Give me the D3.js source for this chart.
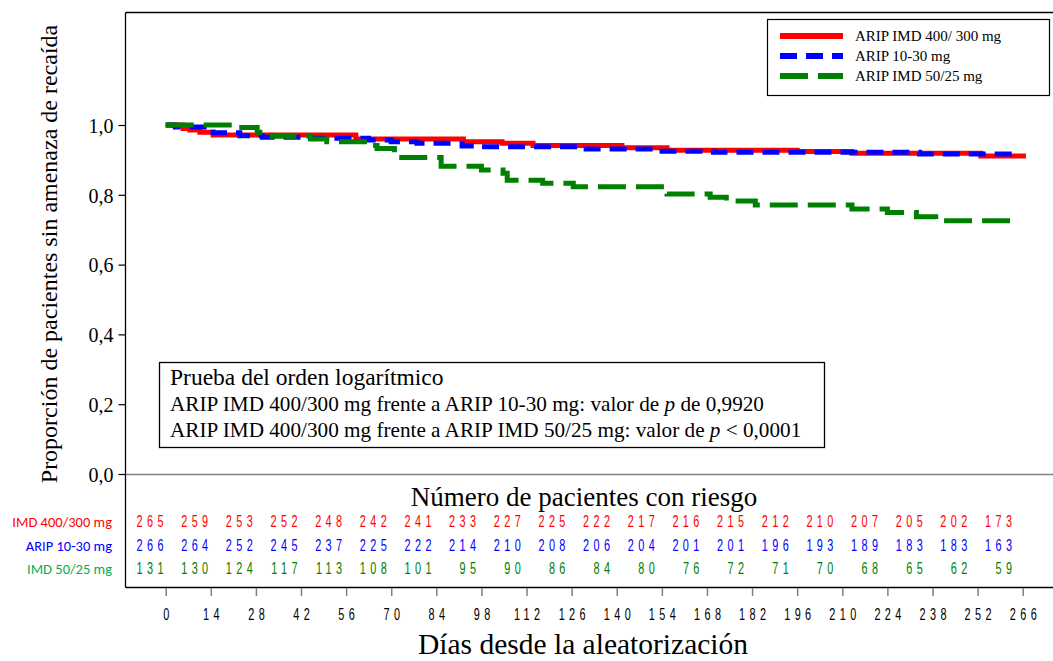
<!DOCTYPE html>
<html>
<head>
<meta charset="utf-8">
<script src="https://cdn.jsdelivr.net/npm/d3@7"></script>
<style>
  body { margin: 0; background: #fff; }
  svg { display: block; }
  .serif { font-family: "Liberation Serif", "Times New Roman", serif; }
  .narrow { font-family: "Liberation Sans", Arial, sans-serif; }
</style>
</head>
<body>
<svg id="chart" width="1053" height="661"></svg>
<script>
// ---------- data ----------
const seriesNames = ["ARIP IMD 400/ 300 mg", "ARIP 10-30 mg", "ARIP IMD 50/25 mg"];
const rowLabels = ["IMD 400/300 mg", "ARIP 10-30 mg", "IMD 50/25 mg"];

const redDays   = [0, 5.4, 7.5, 10.6, 14.7, 59, 92.4, 104.4, 114, 141.6, 155.6, 196, 213, 253, 267];
const redSurv   = [1, 0.990, 0.986, 0.979, 0.971, 0.960, 0.952, 0.9475, 0.941, 0.935, 0.928, 0.924, 0.919, 0.911, 0.911];

const blueDays  = [0, 3, 14.7, 23, 30, 45, 63, 70, 78, 92, 97, 128.6, 152, 170, 234, 265];
const blueSurv  = [1, 0.994, 0.978, 0.969, 0.965, 0.962, 0.957, 0.952, 0.948, 0.940, 0.938, 0.931, 0.925, 0.922, 0.917, 0.917];

const greenDays = [0, 21, 28.4, 33, 45, 50, 63.4, 65.6, 71, 85.5, 98, 104.7, 106, 117, 126.5, 155.6, 169, 174, 183, 213, 224, 233, 239, 264];
const greenSurv = [1, 0.993, 0.979, 0.968, 0.960, 0.952, 0.941, 0.933, 0.907, 0.882, 0.871, 0.862, 0.842, 0.833, 0.823, 0.802, 0.793, 0.782, 0.771, 0.759, 0.749, 0.737, 0.726, 0.726];

const xTicks = [0, 14, 28, 42, 56, 70, 84, 98, 112, 126, 140, 154, 168, 182, 196, 210, 224, 238, 252, 266];
const yTicks = [0, 0.2, 0.4, 0.6, 0.8, 1.0];
const yTickLabels = ["0,0", "0,2", "0,4", "0,6", "0,8", "1,0"];

const riskRed   = [265, 259, 253, 252, 248, 242, 241, 233, 227, 225, 222, 217, 216, 215, 212, 210, 207, 205, 202, 173];
const riskBlue  = [266, 264, 252, 245, 237, 225, 222, 214, 210, 208, 206, 204, 201, 201, 196, 193, 189, 183, 183, 163];
const riskGreen = [131, 130, 124, 117, 113, 108, 101, 95, 90, 86, 84, 80, 76, 72, 71, 70, 68, 65, 62, 59];

const lineColors  = ["#ff0000", "#0000ff", "#008000"];
const labelColors = ["#ff0000", "#0000ff", "#00b050"];

// ---------- layout ----------
const svg = d3.select("#chart");
const frameL = 125.5, frameT = 12.5, frameR = 1053, frameB = 587.5, plotB = 474;

const x = d3.scaleLinear().domain([0, 266]).range([165.7, 1022.7]);
const y = d3.scaleLinear().domain([0, 1]).range([plotB, 125]);
const xRisk = d3.scaleLinear().domain([0, 266]).range([163.5, 1012]);

// narrow, letter-spaced digits (condensed by horizontal scaling)
const sqz = 0.68, numSpace = 6.5, numSize = 16;

// frame
svg.append("line").attr("x1", frameL).attr("x2", frameL).attr("y1", frameT).attr("y2", frameB).attr("stroke", "#000").attr("stroke-width", 1.3);
svg.append("line").attr("x1", frameL).attr("x2", frameR).attr("y1", frameT).attr("y2", frameT).attr("stroke", "#000").attr("stroke-width", 1.3);
svg.append("line").attr("x1", frameL).attr("x2", frameR).attr("y1", frameB).attr("y2", frameB).attr("stroke", "#000").attr("stroke-width", 1.3);
svg.append("line").attr("x1", frameL).attr("x2", frameR).attr("y1", plotB + 0.5).attr("y2", plotB + 0.5).attr("stroke", "#7f7f7f").attr("stroke-width", 1.5);

// y axis
const yAxis = d3.axisLeft(y).tickValues(yTicks).tickSize(7).tickFormat((d, i) => yTickLabels[i]);
const gy = svg.append("g").attr("transform", `translate(${frameL},0)`).call(yAxis);
gy.select(".domain").remove();
gy.attr("font-family", null).attr("font-size", null);
gy.selectAll(".tick line").attr("stroke", "#000").attr("stroke-width", 1.2);
gy.selectAll(".tick text").attr("class", "serif").attr("font-size", 20).attr("fill", "#000").attr("x", -12).attr("dy", "0.36em");

// x axis (bottom)
const xAxis = d3.axisBottom(x).tickValues(xTicks).tickSize(8).tickFormat(d3.format("d"));
const gx = svg.append("g").attr("transform", `translate(0,${frameB + 0.5})`).call(xAxis);
gx.select(".domain").remove();
gx.attr("font-family", null).attr("font-size", null);
gx.selectAll(".tick line").attr("stroke", "#7f7f7f").attr("stroke-width", 1.5);
gx.selectAll(".tick text").attr("class", "narrow").attr("font-size", numSize).attr("fill", "#000")
  .attr("y", 0).attr("dy", "0").attr("dx", numSpace / 2)
  .attr("transform", `translate(0,32) scale(${sqz},1)`)
  .style("letter-spacing", numSpace + "px");

// curves
const series = [
  { days: redDays, surv: redSurv, color: lineColors[0], dash: null },
  { days: blueDays, surv: blueSurv, color: lineColors[1], dash: "17,9" },
  { days: greenDays, surv: greenSurv, color: lineColors[2], dash: "28,10" }
];
const line = d3.line().x(d => x(d[0])).y(d => y(d[1])).curve(d3.curveStepAfter);
series.forEach(s => {
  const pts = s.days.map((d, i) => [d, s.surv[i]]);
  svg.append("path").attr("d", line(pts)).attr("fill", "none")
    .attr("stroke", s.color).attr("stroke-width", 5)
    .attr("stroke-dasharray", s.dash);
});

// legend
const lg = svg.append("g");
lg.append("rect").attr("x", 767.5).attr("y", 19.5).attr("width", 282).attr("height", 76)
  .attr("fill", "#fff").attr("stroke", "#000").attr("stroke-width", 1.2);
seriesNames.forEach((n, i) => {
  const yy = 36 + i * 20;
  lg.append("line").attr("x1", 780).attr("x2", 843).attr("y1", yy).attr("y2", yy)
    .attr("stroke", lineColors[i]).attr("stroke-width", 6)
    .attr("stroke-dasharray", series[i].dash);
  lg.append("text").attr("class", "serif").attr("x", 855).attr("y", yy + 5)
    .attr("font-size", 15).attr("fill", "#000").text(n);
});

// log-rank box
const lb = svg.append("g");
lb.append("rect").attr("x", 159.5).attr("y", 362.5).attr("width", 665).attr("height", 85)
  .attr("fill", "#fff").attr("stroke", "#000").attr("stroke-width", 1.3);
lb.append("text").attr("class", "serif").attr("x", 170).attr("y", 385).attr("font-size", 23.5)
  .text("Prueba del orden logarítmico");
const t2 = lb.append("text").attr("class", "serif").attr("x", 170).attr("y", 411).attr("font-size", 21.2);
t2.append("tspan").text("ARIP IMD 400/300 mg frente a ARIP 10-30 mg: valor de ");
t2.append("tspan").attr("font-style", "italic").text("p");
t2.append("tspan").text(" de 0,9920");
const t3 = lb.append("text").attr("class", "serif").attr("x", 170).attr("y", 437).attr("font-size", 21.2);
t3.append("tspan").text("ARIP IMD 400/300 mg frente a ARIP IMD 50/25 mg: valor de ");
t3.append("tspan").attr("font-style", "italic").text("p");
t3.append("tspan").text(" < 0,0001");

// at-risk table
svg.append("text").attr("class", "serif").attr("x", 584).attr("y", 506).attr("font-size", 27)
  .attr("text-anchor", "middle").text("Número de pacientes con riesgo");
const riskRows = [riskRed, riskBlue, riskGreen];
const rowY = [527, 551, 574];
const numColors = ["#ff0000", "#0000ff", "#008000"];
riskRows.forEach((row, r) => {
  svg.append("text").attr("x", 112).attr("y", rowY[r]).attr("text-anchor", "end")
    .attr("font-family", "Carlito, 'Open Sans', 'Liberation Sans', sans-serif").attr("font-size", 14.5)
    .attr("fill", labelColors[r]).text(rowLabels[r]);
  svg.append("g").selectAll("text").data(row).join("text")
    .attr("class", "narrow").attr("font-size", numSize).attr("fill", numColors[r])
    .attr("transform", (d, i) => `translate(${xRisk(xTicks[i])},${rowY[r]}) scale(${sqz},1)`)
    .attr("x", 0).attr("y", 0).attr("dx", numSpace).attr("text-anchor", "end")
    .style("letter-spacing", numSpace + "px")
    .text(d => d);
});

// axis titles
svg.append("text").attr("class", "serif").attr("font-size", 24).attr("text-anchor", "middle")
  .attr("transform", "translate(57,254) rotate(-90)")
  .text("Proporción de pacientes sin amenaza de recaída");
svg.append("text").attr("class", "serif").attr("font-size", 29.5).attr("text-anchor", "middle")
  .attr("x", 583).attr("y", 654).text("Días desde la aleatorización");
</script>
</body>
</html>
